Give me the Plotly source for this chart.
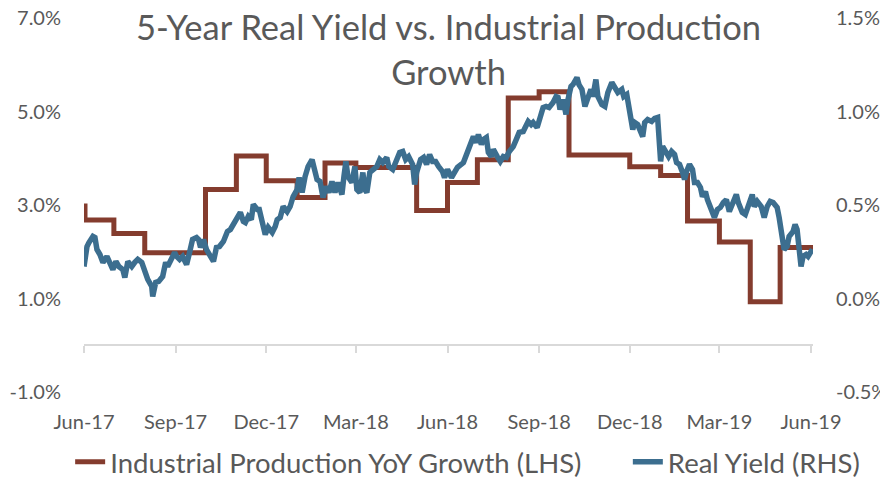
import pandas as pd
import plotly.graph_objects as go

# ---- Industrial Production YoY Growth (LHS, %) : monthly step values ----
ip_dates = ['2017-06-01', '2017-06-02', '2017-07-01', '2017-08-01', '2017-10-01',
            '2017-11-01', '2017-12-01', '2018-01-01', '2018-01-29', '2018-03-01',
            '2018-05-01', '2018-06-01', '2018-07-01', '2018-08-01', '2018-09-01',
            '2018-10-01', '2018-12-01', '2019-01-01', '2019-01-28', '2019-03-01',
            '2019-04-01', '2019-05-01', '2019-06-03']
ip_vals = [2.98, 2.68, 2.39, 1.98, 3.33,
           4.05, 3.52, 3.16, 3.90, 3.80,
           2.88, 3.48, 3.97, 5.29, 5.42,
           4.07, 3.82, 3.63, 2.66, 2.21,
           0.93, 2.09, 2.09]

# ---- 5-Year Real Yield (RHS, %) : days since 2017-06-01 and value ----
ry_start = '2017-06-01'
ry_day = [0, 3, 5, 9, 11, 13, 16, 19, 23, 26,
          29, 32, 35, 39, 41, 44, 48, 51, 54, 58,
          61, 64, 68, 69, 72, 75, 79, 82, 84, 88,
          91, 93, 96, 99, 103, 106, 109, 113, 115, 117,
          120, 123, 128, 130, 133, 136, 140, 144, 147, 150,
          154, 157, 160, 162, 165, 168, 170, 174, 176, 179,
          182, 185, 189, 192,
          194, 197, 200, 204, 207, 210, 214, 216, 219, 222,
          225, 229, 231, 234, 237, 240, 243, 246, 249, 252,
          255, 259, 261, 263, 265, 269, 272, 274, 277, 280,
          282, 284, 287, 290, 294, 297, 300, 304, 306, 310,
          313, 317, 320, 323, 326, 330, 332, 334, 338, 341,
          344, 347, 350, 353, 356, 360, 362, 365, 369, 372,
          375,
          381, 385, 388, 391, 394, 396, 399, 401, 404, 406,
          409, 411, 415, 418, 421, 424, 427, 431, 434, 437,
          441, 443, 446, 449, 451, 455, 458, 461, 464, 467,
          471, 474, 476, 478, 481, 484, 486, 489, 491, 495,
          497, 500, 503, 506, 509, 511, 514, 516, 520, 523,
          526, 530, 533, 536, 540, 542, 545, 547, 551, 553,
          556,
          558, 561, 563, 566, 570, 573, 576, 579, 581, 585,
          587, 590, 593, 595, 598, 601, 603, 605, 608, 611,
          613, 616, 619, 621, 624, 626, 630, 633, 636, 639,
          642, 645, 648, 652, 655, 657, 661, 664, 667, 671,
          673, 676, 680, 683, 686, 689, 692, 696, 698, 701,
          703, 706, 708, 712, 714, 716, 718, 720, 722, 725,
          727, 730, 732]
ry_vals = [0.171, 0.278, 0.299, 0.332, 0.326, 0.262, 0.235, 0.193, 0.225, 0.182,
           0.155, 0.198, 0.171, 0.155, 0.112, 0.198, 0.171, 0.193, 0.209, 0.193,
           0.139, 0.102, 0.064, 0.011, 0.086, 0.091, 0.118, 0.193, 0.171, 0.225,
           0.246, 0.225, 0.209, 0.225, 0.182, 0.246, 0.316, 0.326, 0.316, 0.273,
           0.316, 0.262, 0.225, 0.198, 0.273, 0.278, 0.305, 0.358, 0.369, 0.396,
           0.422, 0.460, 0.412, 0.406, 0.439, 0.422, 0.503, 0.476, 0.476, 0.412,
           0.342, 0.380, 0.353, 0.385,
           0.422, 0.433, 0.492, 0.465, 0.492, 0.545, 0.583, 0.647, 0.567, 0.652,
           0.706, 0.743, 0.690, 0.636, 0.626, 0.540, 0.599, 0.567, 0.626, 0.567,
           0.620, 0.556, 0.652, 0.733, 0.652, 0.620, 0.706, 0.583, 0.567, 0.674,
           0.583, 0.567, 0.674, 0.690, 0.706, 0.743, 0.727, 0.754, 0.706, 0.690,
           0.727, 0.781, 0.786, 0.743, 0.759, 0.717, 0.610, 0.674, 0.743, 0.754,
           0.717, 0.770, 0.733, 0.733, 0.706, 0.679, 0.647, 0.690, 0.647, 0.679,
           0.701,
           0.727, 0.781, 0.840, 0.866, 0.834, 0.877, 0.824, 0.850, 0.861, 0.781,
           0.759, 0.797, 0.759, 0.733, 0.759, 0.754, 0.786, 0.813, 0.850, 0.888,
           0.893, 0.920, 0.947, 0.930, 0.941, 0.914, 0.973, 1.021, 1.027, 1.021,
           1.048, 1.080, 1.075, 1.011, 1.064, 0.984, 1.064, 1.134, 1.144, 1.182,
           1.144, 1.118, 1.027, 1.064, 1.118, 1.080, 1.171, 1.080, 1.037, 1.027,
           1.102, 1.155, 1.128, 1.102, 1.118, 1.080, 1.091, 1.011, 0.904, 0.941,
           0.930,
           0.904, 0.866, 0.941, 0.957, 0.947, 0.963, 0.968, 0.733, 0.813, 0.781,
           0.759, 0.786, 0.770, 0.727, 0.717, 0.674, 0.636, 0.679, 0.717, 0.690,
           0.620, 0.620, 0.594, 0.545, 0.572, 0.529, 0.460, 0.433, 0.476, 0.487,
           0.513, 0.529, 0.465, 0.519, 0.556, 0.513, 0.460, 0.449, 0.492, 0.556,
           0.492, 0.519, 0.492, 0.433, 0.492, 0.519, 0.513, 0.487, 0.433, 0.332,
           0.262, 0.278, 0.332, 0.358, 0.396, 0.369, 0.225, 0.171, 0.225, 0.235,
           0.225, 0.251, 0.246]

# ---- axes ----
x_range = ['2017-06-01', '2019-06-03']
x_tick_dates = ['2017-06-01', '2017-09-01', '2017-12-01', '2018-03-01', '2018-06-01',
                '2018-09-01', '2018-12-01', '2019-03-01', '2019-06-01']
x_tick_labels = ['Jun-17', 'Sep-17', 'Dec-17', 'Mar-18', 'Jun-18',
                 'Sep-18', 'Dec-18', 'Mar-19', 'Jun-19']
left_range = [-1, 7]
left_ticks = [-1, 1, 3, 5, 7]
left_labels = ['-1.0%', '1.0%', '3.0%', '5.0%', '7.0%']
right_range = [-0.5, 1.5]
right_ticks = [-0.5, 0.0, 0.5, 1.0, 1.5]
right_labels = ['-0.5%', '0.0%', '0.5%', '1.0%', '1.5%']
title_text = '5-Year Real Yield vs. Industrial Production<br>Growth'

RED = '#843C2E'
BLUE = '#3C6E8F'
GREY = '#595959'
AXIS = '#D9D9D9'
FONT = 'Lato'

ry_dates = pd.to_datetime(ry_start) + pd.to_timedelta(ry_day, unit='D')

fig = go.Figure()
fig.add_trace(go.Scatter(
    x=pd.to_datetime(ip_dates), y=ip_vals, mode='lines', line_shape='hv',
    name='Industrial Production YoY Growth (LHS)', legend='legend',
    line=dict(color=RED, width=5), yaxis='y'))
fig.add_trace(go.Scatter(
    x=ry_dates, y=ry_vals, mode='lines',
    name='Real Yield (RHS)', legend='legend2',
    line=dict(color=BLUE, width=5.5), yaxis='y2'))

axis_pos = (0 - left_range[0]) / (left_range[1] - left_range[0])

fig.add_annotation(text=title_text, xref='paper', x=0.5, xanchor='center',
                   yref='paper', y=0.916, yanchor='middle', showarrow=False,
                   font=dict(family=FONT, size=34.5, color=GREY))

legend_style = dict(orientation='h', xref='paper', xanchor='left',
                    y=-0.187, yref='paper', yanchor='middle',
                    font=dict(family=FONT, size=27.5, color=GREY),
                    bgcolor='rgba(0,0,0,0)')

# page has an 8px body margin, so the figure is 8px smaller than the window
fig.update_layout(
    width=880, height=485,
    margin=dict(l=76, r=75, t=10, b=101, autoexpand=False),
    plot_bgcolor='white', paper_bgcolor='white',
    font=dict(family=FONT, color=GREY),
    showlegend=True,
    legend=dict(x=-0.019, **legend_style),
    legend2=dict(x=0.746, **legend_style),
    xaxis=dict(type='date', range=x_range, tickvals=x_tick_dates, ticktext=x_tick_labels,
               anchor='free', position=axis_pos, automargin=False,
               showline=True, linecolor=AXIS, linewidth=1.5,
               ticks='outside', ticklen=7, tickcolor=AXIS, tickwidth=1.5,
               ticklabelstandoff=52, showgrid=False, zeroline=False,
               ticklabeloverflow='allow',
               tickfont=dict(family=FONT, size=20, color=GREY)),
    yaxis=dict(range=left_range, tickvals=left_ticks, ticktext=left_labels,
               showgrid=False, zeroline=False, showline=False, ticks='',
               ticklabelstandoff=22, automargin=False, ticklabeloverflow='allow',
               tickfont=dict(family=FONT, size=20, color=GREY)),
    yaxis2=dict(range=right_range, tickvals=right_ticks, ticktext=right_labels,
                overlaying='y', side='right', anchor='x', automargin=False,
                showgrid=False, zeroline=False, showline=False, ticks='',
                ticklabelstandoff=22, ticklabeloverflow='allow',
                tickfont=dict(family=FONT, size=20, color=GREY)),
)

fig.write_html('out.html')
